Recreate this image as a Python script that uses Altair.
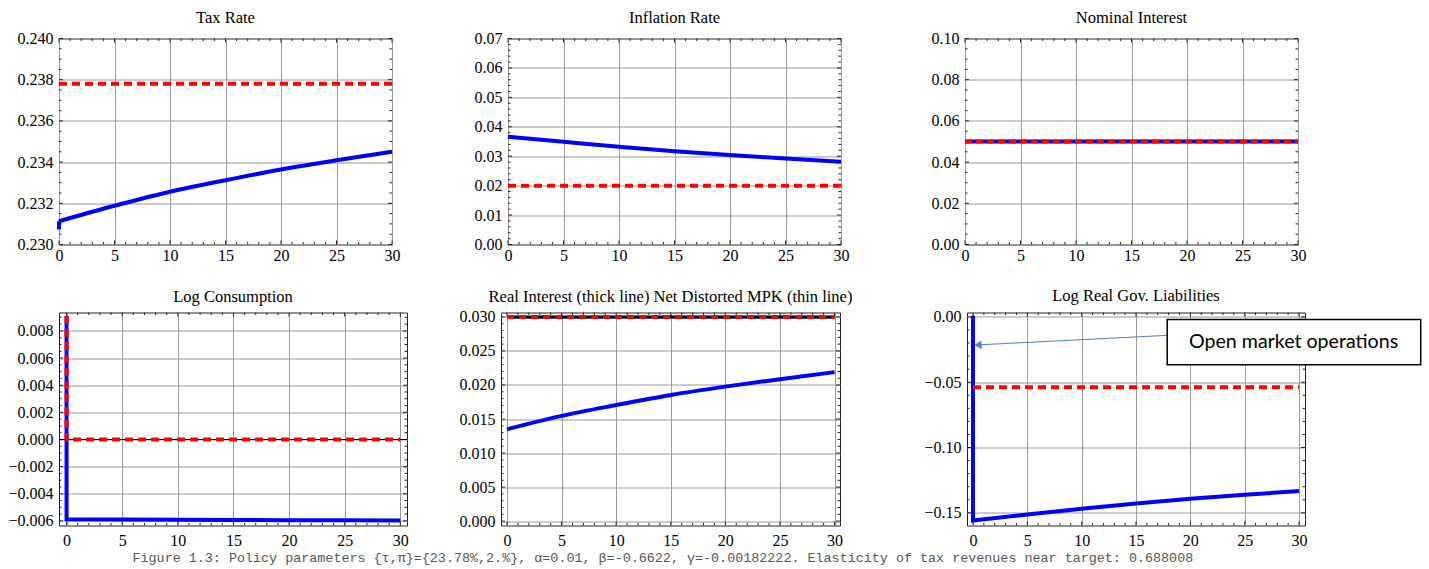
import altair as alt
import pandas as pd

SERIF = "Liberation Serif"
MONO = "Liberation Mono"
BLUE = "#0000ff"
RED = "#ff0000"
FRAME = "#222222"

# ---------------- data ----------------
t = [0, 5, 10, 15, 20, 25, 30]
x_major = [0, 5, 10, 15, 20, 25, 30]
x_minor = [v for v in range(0, 31) if v % 5 != 0]

tax_rate = [0.23113, 0.23188, 0.23256, 0.23312, 0.23364, 0.23409, 0.23450]
tax_rate_jump = [0.23073, 0.23113]
tax_target = 0.2378

inflation = [0.0366, 0.0349, 0.0332, 0.0317, 0.0304, 0.0292, 0.0281]
inflation_target = 0.02

nominal = [0.05, 0.05, 0.05, 0.05, 0.05, 0.05, 0.05]
nominal_target = 0.05

log_cons = [-0.00588, -0.00590, -0.00592, -0.00593, -0.00595, -0.00596, -0.00597]
log_cons_impact = 0.0091
log_cons_target = 0.0

real_int = [0.01349, 0.01546, 0.01705, 0.01853, 0.01976, 0.02085, 0.02189]
mpk_thin = 0.02985
real_int_target = 0.030

liab = [-0.1559, -0.1513, -0.1469, -0.1428, -0.1392, -0.1362, -0.1333]
liab_impact = 0.001
liab_target = -0.0538

titles = ["Tax Rate", "Inflation Rate", "Nominal Interest", "Log Consumption",
          "Real Interest (thick line) Net Distorted MPK (thin line)", "Log Real Gov. Liabilities"]

y_major_1 = [0.230, 0.232, 0.234, 0.236, 0.238, 0.240]
y_minor_1 = [0.2305, 0.2310, 0.2315, 0.2325, 0.2330, 0.2335, 0.2345, 0.2350, 0.2355,
             0.2365, 0.2370, 0.2375, 0.2385, 0.2390, 0.2395]
y_major_2 = [0.00, 0.01, 0.02, 0.03, 0.04, 0.05, 0.06, 0.07]
y_minor_2 = [0.002, 0.004, 0.006, 0.008, 0.012, 0.014, 0.016, 0.018, 0.022, 0.024, 0.026, 0.028,
             0.032, 0.034, 0.036, 0.038, 0.042, 0.044, 0.046, 0.048, 0.052, 0.054, 0.056, 0.058,
             0.062, 0.064, 0.066, 0.068]
y_major_3 = [0.00, 0.02, 0.04, 0.06, 0.08, 0.10]
y_minor_3 = [0.005, 0.010, 0.015, 0.025, 0.030, 0.035, 0.045, 0.050, 0.055, 0.065, 0.070, 0.075,
             0.085, 0.090, 0.095]
y_major_4 = [-0.006, -0.004, -0.002, 0.000, 0.002, 0.004, 0.006, 0.008]
y_minor_4 = [-0.0055, -0.005, -0.0045, -0.0035, -0.003, -0.0025, -0.0015, -0.001, -0.0005,
             0.0005, 0.001, 0.0015, 0.0025, 0.003, 0.0035, 0.0045, 0.005, 0.0055, 0.0065, 0.007,
             0.0075, 0.0085, 0.009]
y_major_5 = [0.000, 0.005, 0.010, 0.015, 0.020, 0.025, 0.030]
y_minor_5 = [0.001, 0.002, 0.003, 0.004, 0.006, 0.007, 0.008, 0.009, 0.011, 0.012, 0.013, 0.014,
             0.016, 0.017, 0.018, 0.019, 0.021, 0.022, 0.023, 0.024, 0.026, 0.027, 0.028, 0.029]
y_major_6 = [-0.15, -0.10, -0.05, 0.00]
y_minor_6 = [-0.14, -0.13, -0.12, -0.11, -0.09, -0.08, -0.07, -0.06, -0.04, -0.03, -0.02, -0.01]

note_text = "Open market operations"
note_box_x = [17.87, 41.2]
note_box_y = [-0.0020, -0.0366]
note_text_xy = [29.5, -0.0193]
arrow_from = [17.87, -0.0141]
arrow_to = [0.46, -0.0214]

caption = ("Figure 1.3: Policy parameters {\u03c4,\u03c0}={23.78%,2.%}, \u03b1=0.01, \u03b2=-0.6622, "
           "\u03b3=-0.00182222. Elasticity of tax revenues near target: 0.688008")

MAJ = 4
MIN = 2.5
YEXT = 52
XEXT = 22


def panel(title, xdom, ydom, ymaj, ymin, fmt, w, h, xlabpad, title_offset, layers):
    xs = alt.Scale(domain=xdom, nice=False, zero=False)
    ys = alt.Scale(domain=ydom, nice=False, zero=False)
    xax = alt.Axis(values=x_major, grid=True, ticks=False, domain=False, labelPadding=xlabpad,
                   title=None, format="d", labelFlush=False, labelOverlap=False,
                   minExtent=XEXT, maxExtent=XEXT)
    yax = alt.Axis(values=ymaj, grid=True, ticks=False, domain=False, labelPadding=6,
                   title=None, format=fmt, labelFlush=False, labelOverlap=False,
                   minExtent=YEXT, maxExtent=YEXT)

    def X(f):
        return alt.X(f"{f}:Q", scale=xs, axis=xax)

    def Y(f):
        return alt.Y(f"{f}:Q", scale=ys, axis=yax)

    out = []
    out.append(alt.Chart(pd.DataFrame({"x": [xdom[0]], "y": [ydom[0]]})).mark_point(opacity=0)
               .encode(x=X("x"), y=Y("y")))
    for vals, L in ((x_major, MAJ), (x_minor, MIN)):
        d = pd.DataFrame({"x": vals})
        out.append(alt.Chart(d).mark_rule(color=FRAME, strokeWidth=1)
                   .encode(x=X("x"), y=alt.value(h), y2=alt.value(h - L)))
        out.append(alt.Chart(d).mark_rule(color=FRAME, strokeWidth=1)
                   .encode(x=X("x"), y=alt.value(0), y2=alt.value(L)))
    for vals, L in ((ymaj, MAJ), (ymin, MIN)):
        d = pd.DataFrame({"y": vals})
        out.append(alt.Chart(d).mark_rule(color=FRAME, strokeWidth=1)
                   .encode(y=Y("y"), x=alt.value(0), x2=alt.value(L)))
        out.append(alt.Chart(d).mark_rule(color=FRAME, strokeWidth=1)
                   .encode(y=Y("y"), x=alt.value(w), x2=alt.value(w - L)))
    out += layers(X, Y)
    return alt.layer(*out).properties(
        width=w, height=h,
        title=alt.TitleParams(title, font=SERIF, fontSize=16.5, fontWeight="normal", color="black",
                              offset=title_offset, frame="group", anchor="middle"))


def series(xv, yv):
    return pd.DataFrame({"x": xv, "y": yv, "i": list(range(len(xv)))})


def blue_line(X, Y, xv, yv, width=4, interp="linear"):
    return (alt.Chart(series(xv, yv)).mark_line(color=BLUE, strokeWidth=width, interpolate=interp)
            .encode(x=X("x"), y=Y("y"), order=alt.Order("i:Q")))


def red_dash(X, Y, yv, color=RED, dash=(8, 5), width=4):
    d = pd.DataFrame({"x": [0], "x1": [30], "y": [yv]})
    return (alt.Chart(d).mark_rule(color=color, strokeWidth=width, strokeDash=list(dash))
            .encode(x=X("x"), x2=alt.X2("x1"), y=Y("y")))


def l1(X, Y):
    return [blue_line(X, Y, [0, 0], tax_rate_jump),
            blue_line(X, Y, t, tax_rate, interp="monotone"),
            red_dash(X, Y, tax_target)]


def l2(X, Y):
    return [blue_line(X, Y, t, inflation, interp="monotone"),
            red_dash(X, Y, inflation_target)]


def l3(X, Y):
    return [blue_line(X, Y, t, nominal),
            red_dash(X, Y, nominal_target, dash=(7, 4))]


def l4(X, Y):
    zero = pd.DataFrame({"x": [-0.68], "x1": [30.6], "y": [0.0]})
    red = series([0, 0, 30], [log_cons_impact, log_cons_target, log_cons_target])
    return [alt.Chart(zero).mark_rule(color="black", strokeWidth=1)
            .encode(x=X("x"), x2=alt.X2("x1"), y=Y("y")),
            blue_line(X, Y, [0] + t, [log_cons_impact] + log_cons),
            alt.Chart(red).mark_line(color=RED, strokeWidth=4, strokeDash=[8, 5])
            .encode(x=X("x"), y=Y("y"), order=alt.Order("i:Q"))]


def l5(X, Y):
    d = pd.DataFrame({"x": [0], "x1": [30], "y": [mpk_thin]})
    return [blue_line(X, Y, t, real_int, interp="monotone"),
            alt.Chart(d).mark_rule(color=BLUE, strokeWidth=1.2)
            .encode(x=X("x"), x2=alt.X2("x1"), y=Y("y")),
            red_dash(X, Y, real_int_target, color="black", dash=(1, 0), width=3),
            red_dash(X, Y, real_int_target, dash=(7, 5))]


def l6(X, Y):
    box = pd.DataFrame({"x": [note_box_x[0]], "x1": [note_box_x[1]],
                        "y": [note_box_y[0]], "y1": [note_box_y[1]]})
    txt = pd.DataFrame({"x": [note_text_xy[0]], "y": [note_text_xy[1]], "s": [note_text]})
    arr = pd.DataFrame({"x": [arrow_from[0]], "x1": [arrow_to[0]],
                        "y": [arrow_from[1]], "y1": [arrow_to[1]]})
    head = pd.DataFrame({"x": [arrow_to[0]], "y": [arrow_to[1]]})
    return [blue_line(X, Y, [0] + t, [liab_impact] + liab),
            red_dash(X, Y, liab_target),
            alt.Chart(arr).mark_rule(color="#4f81bd", strokeWidth=1)
            .encode(x=X("x"), x2=alt.X2("x1"), y=Y("y"), y2=alt.Y2("y1")),
            alt.Chart(head).mark_point(shape="triangle-left", filled=True, color="#4f81bd",
                                       size=70, angle=357, opacity=1)
            .encode(x=X("x"), y=Y("y")),
            alt.Chart(box).mark_rect(fill="white", stroke="black", strokeWidth=1.5)
            .encode(x=X("x"), x2=alt.X2("x1"), y=Y("y"), y2=alt.Y2("y1")),
            alt.Chart(txt).mark_text(font="Lato", fontSize=19.6, color="black", align="center",
                                     baseline="middle")
            .encode(x=X("x"), y=Y("y"), text="s:N")]


p1 = panel(titles[0], [0, 30], [0.230, 0.240], y_major_1, y_minor_1, ".3f", 333, 206, 3, 4.5, l1)
p2 = panel(titles[1], [0, 30], [0.0, 0.07], y_major_2, y_minor_2, ".2f", 333, 206, 3, 4.5, l2)
p3 = panel(titles[2], [0, 30], [0.0, 0.10], y_major_3, y_minor_3, ".2f", 333, 206, 3, 4.5, l3)
p4 = panel(titles[3], [-0.68, 30.6], [-0.00634, 0.00936], y_major_4, y_minor_4, ".3f", 348, 213, 7, 3, l4)
p5 = panel(titles[4], [-0.55, 30.5], [-0.00064, 0.03065], y_major_5, y_minor_5, ".3f", 339, 213, 7, 3, l5)
p6 = panel(titles[5], [-0.55, 30.55], [-0.1597, 0.0034], y_major_6, y_minor_6, ".2f", 338, 213, 7, 3, l6)

row1 = alt.hconcat(p1, alt.hconcat(p2, p3, spacing=62), spacing=54)
row2 = alt.hconcat(p4, alt.hconcat(p5, p6, spacing=61), spacing=39)

chart = alt.vconcat(row1, row2, spacing=20).properties(
    title=alt.TitleParams(caption, orient="bottom", anchor="start", font=MONO, fontSize=13.4,
                          fontWeight="normal", color="#555555", offset=2, dx=126),
    padding={"left": 6, "top": 8.5, "right": 5, "bottom": 2},
    background="white",
).configure_view(stroke=FRAME, strokeWidth=1).configure_axis(
    labelFont=SERIF, labelFontSize=16, labelColor="black", gridColor="#9a9a9a", gridWidth=1,
    gridOpacity=1
)

chart.save("out.html", embed_options={"renderer": "svg", "actions": False})
